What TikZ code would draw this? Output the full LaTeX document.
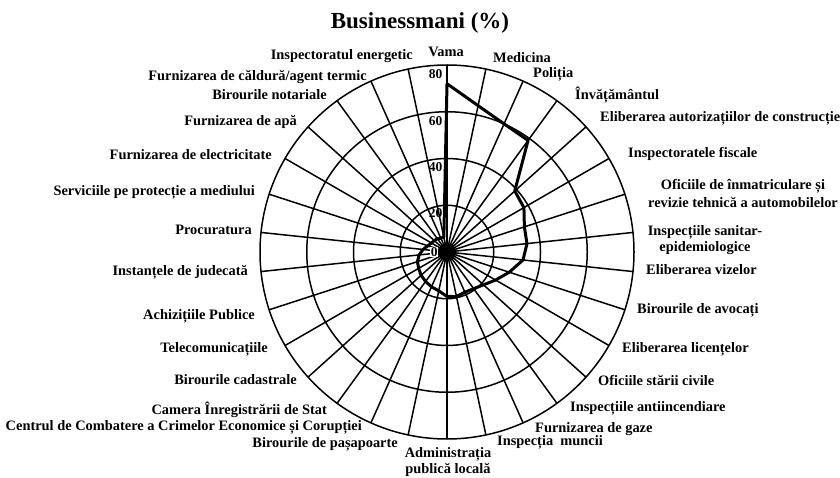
\documentclass[tikz,border=0pt]{standalone}
\usepackage{fontspec}
\setmainfont{Liberation Serif}
\begin{document}
\begin{tikzpicture}[x=1pt,y=-1pt,
  grid/.style={line width=1.5pt},
  datapoly/.style={line width=3pt, line join=round},
  lab/.style={font=\bfseries\fontsize{14.4}{16}\selectfont, inner sep=0pt},
  rlab/.style={lab, anchor=mid west},
  llab/.style={lab, anchor=mid east},
  scalelab/.style={font=\bfseries\fontsize{13.5}{14}\selectfont, inner sep=0.5pt, anchor=east},
  charttitle/.style={font=\bfseries\fontsize{23}{25}\selectfont, inner sep=0pt}]
\useasboundingbox (0,0) rectangle (840,478);
\coordinate (O) at (447,252);
% rings
\foreach \r in {46.75,93.5,140.25,187}
  \draw[grid] (O) circle[radius=\r pt];
% spokes
\foreach \k in {0,...,29}
  \draw[grid] (O) -- ++({90-12*\k}:187pt) coordinate (e\k);
\fill (O) circle[radius=9pt];
% data
\foreach \v [count=\k from 0] in {72,64,60,59,39,38,34.8,34.4,32.7,28,24,21,19.4,18.8,19.5,19,17,16.3,15.6,14.9,14,13.3,12,10.3,8.6,7.7,7.3,7,6.5,6.5}
  \path (O) ++({90-12*\k}:{\v*2.3375pt}) coordinate (p\k);
\draw[datapoly] (p0) \foreach \k in {1,...,29}{ -- (p\k)} -- cycle;
% scale
\node[scalelab] (s80) at (443,74) {80};
\node[scalelab] (s60) at (443,121) {60};
\node[scalelab] (s40) at (443,167) {40};
\node[scalelab] (s20) at (443,213) {20};
\node[scalelab, fill=white, inner sep=0.3pt] (s0) at (438,252) {0};
% title
\node[charttitle] (title) at (420,23) {Businessmani (\%)};
% labels
\node[lab] (l0) at (446,52) {Vama};
\node[rlab] (l1) at (493,60) {Medicina};
\node[rlab] (l2) at (533,75) {Poliția};
\node[rlab] (l3) at (575,97) {Învățământul};
\node[rlab] (l4) at (600,119) {Eliberarea autorizațiilor de construcție};
\node[rlab] (l5) at (628,155) {Inspectoratele fiscale};
\node[lab, align=center, font=\bfseries\fontsize{14.4}{18}\selectfont] (l6) at (743,194) {Oficiile de înmatriculare și\\revizie tehnică a automobilelor};
\node[lab, align=center] (l7) at (705,240) {Inspecțiile sanitar-\\epidemiologice};
\node[rlab] (l8) at (646,272) {Eliberarea vizelor};
\node[rlab] (l9) at (637,311) {Birourile de avocați};
\node[rlab] (l10) at (622,350) {Eliberarea licențelor};
\node[rlab] (l11) at (598,383) {Oficiile stării civile};
\node[rlab] (l12) at (570,409) {Inspecțiile antiincendiare};
\node[rlab] (l13) at (535,430) {Furnizarea de gaze};
\node[rlab] (l14) at (497,443) {Inspecția\ \ muncii};
\node[lab, align=center] (l15) at (448,462) {Administrația\\publică locală};
\node[llab] (l16) at (398,445) {Birourile de pașapoarte};
\node[llab] (l17) at (362,428) {Centrul de Combatere a Crimelor Economice și Corupției};
\node[llab] (l18) at (327,412) {Camera Înregistrării de Stat};
\node[llab] (l19) at (297,382) {Birourile cadastrale};
\node[llab] (l20) at (268,350) {Telecomunicațiile};
\node[llab] (l21) at (255,317) {Achizițiile Publice};
\node[llab] (l22) at (248,273) {Instanțele de judecată};
\node[llab] (l23) at (252,232) {Procuratura};
\node[llab] (l24) at (255,193) {Serviciile pe protecție a mediului};
\node[llab] (l25) at (272,157) {Furnizarea de electricitate};
\node[llab] (l26) at (297,123) {Furnizarea de apă};
\node[llab] (l27) at (327,97) {Birourile notariale};
\node[llab] (l28) at (367,78) {Furnizarea de căldură/agent termic};
\node[llab] (l29) at (413,57) {Inspectoratul energetic};
\end{tikzpicture}
\end{document}
